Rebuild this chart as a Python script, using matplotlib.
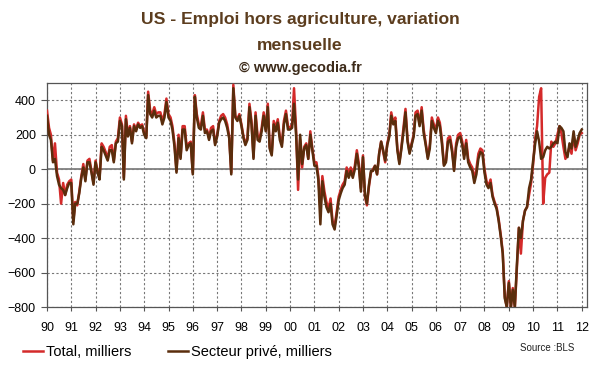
import numpy as np
import pandas as pd
import matplotlib
matplotlib.use('Agg')
import matplotlib.pyplot as plt
import matplotlib.dates as mdates

plt.rcParams['font.family'] = ['Liberation Sans', 'DejaVu Sans']

# variation mensuelle, milliers (janv. 1990 -> janv. 2012)
total = [
    340, 240, 200, 50, 150, -20, -60, -200, -80, -150, -90, -70,        # 1990
    -60, -300, -190, -210, -130, -40, 30, -60, 50, 60, -10, -80,        # 1991
    50, -10, -50, 150, 130, 100, 60, 130, 140, 50, 160, 180,            # 1992
    300, 260, -50, 310, 200, 250, 160, 260, 230, 270, 250, 260,         # 1993
    210, 190, 450, 340, 320, 360, 320, 330, 330, 280, 320, 410,         # 1994
    320, 300, 250, 150, -10, 200, 70, 250, 250, 130, 150, 160,          # 1995
    -20, 430, 320, 260, 250, 330, 230, 230, 180, 240, 250, 150,         # 1996
    200, 280, 310, 320, 300, 260, 190, -20, 490, 310, 290, 320,         # 1997
    260, 190, 150, 180, 380, 280, 70, 330, 190, 180, 240, 330,          # 1998
    230, 380, 130, 90, 280, 240, 290, 190, 150, 280, 340, 250,          # 1999
    240, 260, 470, 230, -120, 170, 10, 130, 150, 60, 220, 120,          # 2000
    40, 40, -40, -230, -40, -130, -190, -230, -170, -300, -330, -250,   # 2001
    -160, -120, -90, -70, 10, -30, 10, -30, 20, 110, 30, -110,          # 2002
    80, -160, -210, -100, -20, 0, 20, -30, 90, 160, 100, 40,            # 2003
    150, 200, 330, 270, 300, 120, 40, 130, 240, 350, 170, 100,          # 2004
    150, 200, 330, 340, 260, 360, 230, 150, 70, 140, 300, 260,          # 2005
    230, 300, 270, 170, 30, 50, 180, 190, 120, 0, 150, 200,             # 2006
    210, 160, 80, 170, 60, 30, 10, -60, 0, 90, 120, 110,                # 2007
    0, -70, -100, -60, -150, -190, -220, -290, -380, -480, -740, -800,  # 2008
    -650, -800, -690, -800, -580, -340, -490, -300, -240, -220, -150, -80,  # 2009
    30, 180, 250, 420, 470, -200, -50, -30, -20, 160, 130, 150,         # 2010
    200, 250, 210, 130, 60, 90, 130, 90, 200, 110, 150, 200,            # 2011
    210,                                                                # 2012
]

prive = [
    310, 200, 170, 40, 60, -40, -90, -110, -120, -150, -110, -80,       # 1990
    -80, -320, -200, -200, -140, -50, 10, -70, 40, 40, -20, -90,        # 1991
    40, -20, -60, 130, 110, 80, 50, 110, 110, 40, 150, 160,             # 1992
    280, 250, -60, 290, 190, 240, 150, 250, 220, 260, 240, 250,         # 1993
    200, 180, 430, 320, 300, 340, 300, 310, 310, 260, 300, 390,         # 1994
    300, 280, 230, 130, -20, 180, 60, 230, 230, 110, 140, 150,          # 1995
    -30, 420, 300, 240, 230, 310, 210, 220, 170, 220, 230, 140,         # 1996
    190, 270, 290, 300, 280, 240, 180, -30, 470, 300, 280, 310,         # 1997
    250, 180, 140, 170, 360, 260, 60, 310, 170, 160, 220, 310,          # 1998
    220, 360, 120, 80, 260, 220, 270, 170, 130, 260, 320, 230,          # 1999
    230, 240, 380, 200, -60, 200, 30, 120, 140, 60, 200, 110,           # 2000
    20, 20, -60, -320, -70, -160, -220, -250, -200, -320, -350, -270,   # 2001
    -180, -140, -110, -90, -10, -50, -10, -50, 0, 90, 10, -130,         # 2002
    70, -150, -200, -90, -10, -10, 20, -30, 90, 160, 110, 50,           # 2003
    140, 190, 310, 260, 280, 110, 30, 120, 220, 330, 160, 90,           # 2004
    140, 190, 310, 320, 250, 340, 210, 140, 60, 120, 280, 240,          # 2005
    210, 280, 250, 150, 20, 40, 160, 170, 100, -10, 130, 180,           # 2006
    190, 140, 60, 150, 40, 10, -10, -80, -30, 60, 100, 90,              # 2007
    -20, -90, -110, -80, -160, -200, -230, -300, -390, -490, -750, -800,  # 2008
    -660, -800, -700, -800, -560, -340, -400, -300, -240, -220, -110, -60,  # 2009
    50, 150, 220, 160, 60, 70, 110, 130, 120, 130, 150, 160,            # 2010
    150, 250, 240, 220, 100, 70, 150, 120, 220, 130, 170, 210,          # 2011
    230,                                                                # 2012
]

dates = pd.date_range('1990-01-01', periods=len(total), freq='MS')
years = pd.date_range('1990-01-01', '2012-01-01', freq='YS')
yticks = [-800, -600, -400, -200, 0, 200, 400]

fig = plt.figure(figsize=(6, 3.72), dpi=100)
ax = fig.add_axes([0.0783, 0.1747, 0.9, 0.602])

ax.plot(dates, total, color='#d42a2a', lw=1.8, label='Total, milliers', zorder=3)
ax.plot(dates, prive, color='#5a2d0c', lw=1.8, label='Secteur privé, milliers', zorder=4)

ax.set_ylim(-800, 500)
ax.set_xlim(pd.Timestamp('1990-01-01'), pd.Timestamp('2012-03-20'))
ax.set_yticks(yticks)
ax.set_xticks(years)
ax.set_xticklabels([d.strftime('%y') for d in years])

ax.grid(True, color='#777777', linestyle=(0, (2, 2)), lw=0.8)
ax.axhline(0, color='#808080', lw=1.3, zorder=2)

for s in ax.spines.values():
    s.set_color('#555555')
    s.set_linewidth(0.9)
ax.tick_params(axis='y', length=4, width=0.8, color='#555555', pad=4, labelsize=9)
ax.tick_params(axis='x', length=3, width=0.8, color='#555555', pad=8, labelsize=9)

fig.text(0.5, 0.947, 'US - Emploi hors agriculture, variation', ha='center', va='center',
         fontsize=12.6, fontweight='bold', color='#5c3d1e')
fig.text(0.5, 0.877, 'mensuelle', ha='center', va='center',
         fontsize=12.6, fontweight='bold', color='#5c3d1e')
fig.text(0.5, 0.818, '© www.gecodia.fr', ha='center', va='center',
         fontsize=10.5, fontweight='bold', color='#3d2b1a')

fig.legend(loc='center left', bbox_to_anchor=(0.038, 0.054), ncol=2, frameon=False,
           fontsize=10.5, handlelength=1.4, handletextpad=0.2, columnspacing=2.5,
           borderpad=0, borderaxespad=0)
fig.text(0.958, 0.065, 'Source :BLS', ha='right', va='center', fontsize=7, color='#222222')

fig.savefig('out.png', dpi=100)
